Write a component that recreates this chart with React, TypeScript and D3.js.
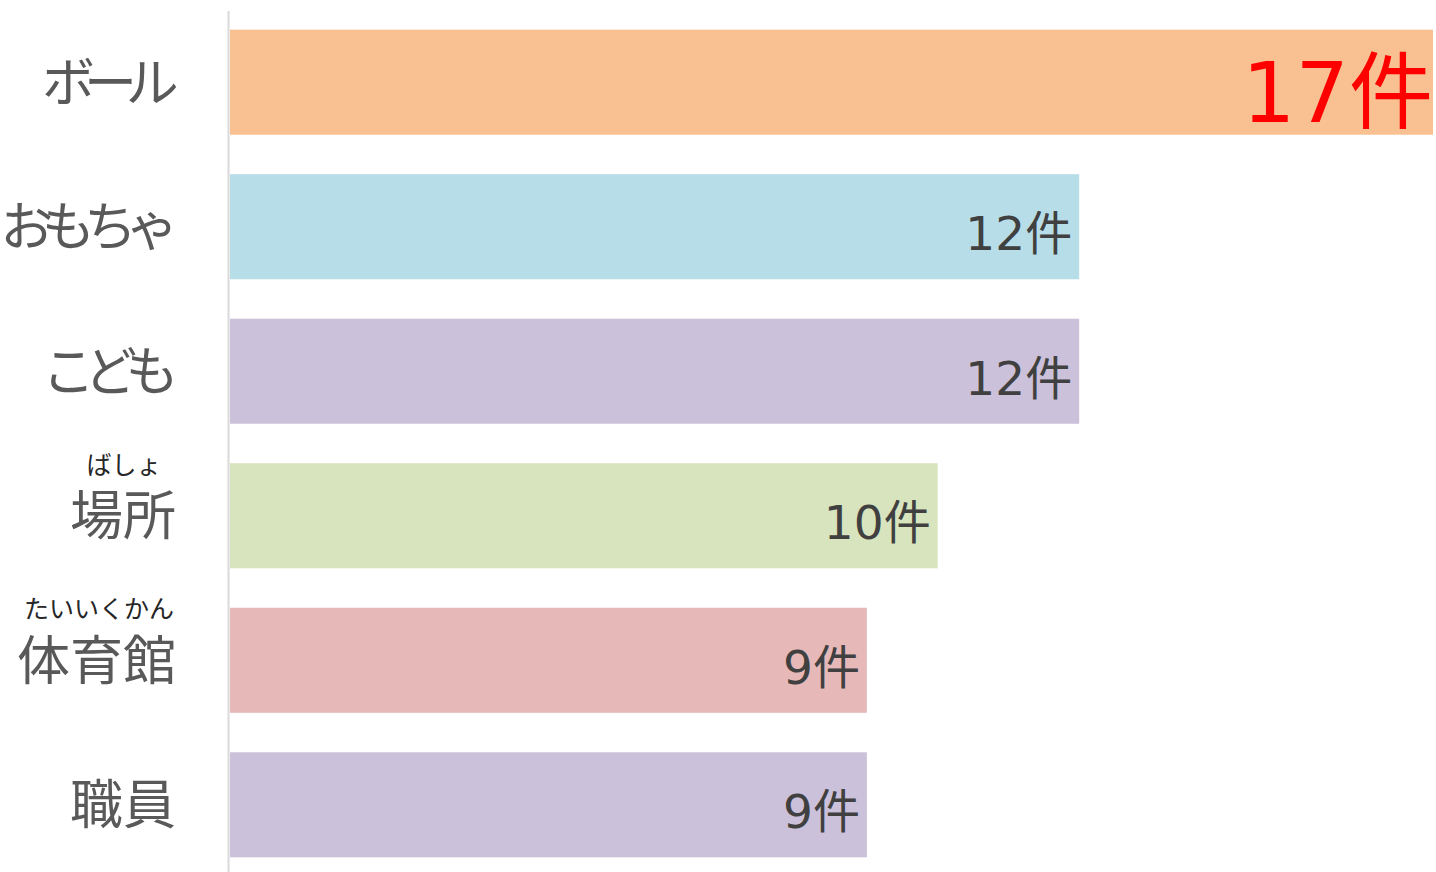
import React from "react";
import * as d3 from "d3";

const categories = ["ボール", "おもちゃ", "こども", "場所", "体育館", "職員"];
const furigana = ["", "", "", "ばしょ", "たいいくかん", ""];
const counts = [17, 12, 12, 10, 9, 9];
const barColors = ["#f9c191", "#b7dde8", "#ccc1da", "#d7e4bd", "#e6b9b8", "#ccc1da"];

const width = 1436;
const height = 872;
const left = 230;
const labelSize = 53;
const jpFont = "'Noto Sans CJK JP', 'Noto Sans', sans-serif";
const numFont = "'DejaVu Sans', 'Noto Sans CJK JP', sans-serif";

// kana in the original font are proportional; tighten them a bit
const isKana = (s: string) => /[\u3040-\u30ff]/.test(s);

export default function App() {
  const x = d3.scaleLinear().domain([0, 17]).range([left, 1433]);
  const y = d3
    .scaleBand<string>()
    .domain(categories)
    .range([10, 877])
    .paddingInner(0.273)
    .paddingOuter(0.136);

  return (
    <svg
      width={width}
      height={height}
      style={{ position: "absolute", left: 0, top: 0, background: "#fff" }}
    >
      {categories.map((c, i) => {
        const y0 = y(c)!;
        const bw = y.bandwidth();
        const cy = y0 + bw / 2;
        const big = i === 0;
        const ls = isKana(c) ? -0.21 * labelSize : 0;
        return (
          <g key={c}>
            <rect x={x(0)} y={y0} width={x(counts[i]) - x(0)} height={bw} fill={barColors[i]} />
            <text
              x={x(counts[i]) - (big ? 0 : 7)}
              y={cy}
              dy={big ? "0.47em" : "0.5em"}
              textAnchor="end"
              fontFamily={numFont}
              fontSize={big ? 84 : 47}
              fill={big ? "#ff0000" : "#404040"}
            >
              {counts[i]}件
            </text>
            <text
              x={176 + 0.75 * ls}
              y={cy}
              dy="0.37em"
              textAnchor="end"
              fontFamily={jpFont}
              fontSize={labelSize}
              fill="#595959"
              letterSpacing={ls}
            >
              {c}
            </text>
            {furigana[i] && (
              <text
                x={i === 3 ? 124 : 99}
                y={cy - 42}
                textAnchor="middle"
                fontFamily={jpFont}
                fontSize={25}
                fill="#262626"
              >
                {furigana[i]}
              </text>
            )}
          </g>
        );
      })}
      <line x1={228.5} x2={228.5} y1={11} y2={height} stroke="#d9d9d9" strokeWidth={2} />
    </svg>
  );
}
